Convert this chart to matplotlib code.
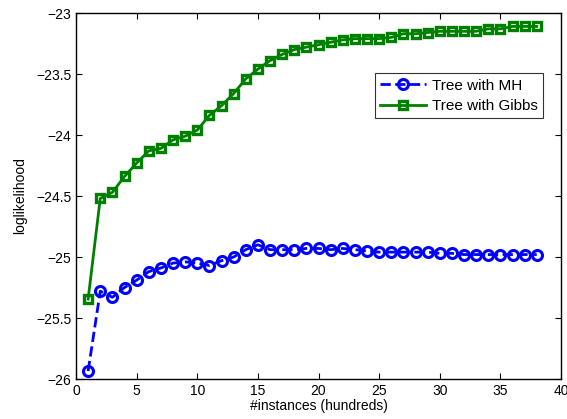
import matplotlib
matplotlib.use('Agg')
import matplotlib.pyplot as plt

# data
x = list(range(1, 39))
mh = [-25.935, -25.28, -25.33, -25.25, -25.19, -25.12, -25.09, -25.05, -25.04, -25.05,
      -25.07, -25.03, -25.00, -24.94, -24.90, -24.94, -24.94, -24.94, -24.93, -24.93,
      -24.94, -24.93, -24.94, -24.95, -24.96, -24.96, -24.96, -24.96, -24.96, -24.97,
      -24.97, -24.98, -24.98, -24.98, -24.98, -24.98, -24.98, -24.98]
gibbs = [-25.345, -24.52, -24.47, -24.34, -24.23, -24.13, -24.11, -24.04, -24.01, -23.96,
         -23.84, -23.76, -23.66, -23.54, -23.46, -23.39, -23.34, -23.30, -23.28, -23.26,
         -23.24, -23.22, -23.21, -23.21, -23.21, -23.20, -23.17, -23.17, -23.16, -23.15,
         -23.15, -23.15, -23.15, -23.13, -23.13, -23.11, -23.11, -23.11]
xticks = [0, 5, 10, 15, 20, 25, 30, 35, 40]
yticks = [-26, -25.5, -25, -24.5, -24, -23.5, -23]

plt.rcParams['font.family'] = ['Liberation Sans', 'DejaVu Sans']

fig = plt.figure(figsize=(5.67, 4.19), dpi=100)
ax = fig.add_axes([76/567, 1 - 379/419, 485/567, 366/419])

ax.plot(x, mh, '--', color='#0000ff', lw=2, marker='o', ms=7.2,
        mfc='none', mec='#0000ff', mew=2.2, label='Tree with MH')
ax.plot(x, gibbs, '-', color='#008000', lw=2, marker='s', ms=6,
        mfc='none', mec='#008000', mew=2.4, label='Tree with Gibbs')

ax.set_xlim(0, 40)
ax.set_ylim(-26, -23)
ax.set_xticks(xticks)
ax.set_yticks(yticks)
ax.set_yticklabels([('%g' % v).replace('-', '\u2212') for v in yticks])
ax.tick_params(direction='in', top=True, right=True, labelsize=10, length=4, width=0.8)
for s in ax.spines.values():
    s.set_linewidth(1.0)

ax.set_xlabel('#instances (hundreds)', fontsize=10, labelpad=1)
ax.set_ylabel('loglikelihood', fontsize=10, labelpad=6)

leg = ax.legend(loc='upper right', bbox_to_anchor=(0.963, 0.835), fontsize=11,
                frameon=True, fancybox=False, edgecolor='black', handlelength=3,
                borderpad=0.35, labelspacing=0.4, handletextpad=0.4, borderaxespad=0)
leg.get_frame().set_linewidth(0.8)

fig.savefig('out.png', dpi=100)
